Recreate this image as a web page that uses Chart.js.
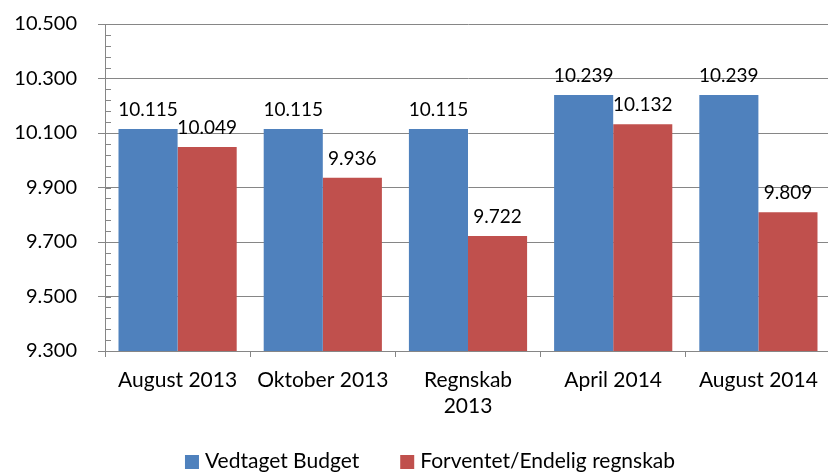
<!DOCTYPE html>
<html>
<head>
<meta charset="utf-8">
<script src="https://cdn.jsdelivr.net/npm/chart.js@4/dist/chart.umd.min.js"></script>
<style>
  html, body { margin: 0; padding: 0; background: #fff; overflow: hidden; }
  #wrap { width: 831px; height: 472px; }
</style>
</head>
<body>
<div id="wrap"><canvas id="grafico" width="831" height="472"></canvas></div>
<script>
// Data from the chart (thousands, danish number format)
const kategorier = ['August 2013', 'Oktober 2013', ['Regnskab', '2013'], 'April 2014', 'August 2014'];
const vedtagetBudget = [10115, 10115, 10115, 10239, 10239];
const forventetRegnskab = [10049, 9936, 9722, 10132, 9809];
const serieNavne = ['Vedtaget Budget', 'Forventet/Endelig regnskab'];
const yMin = 9300, yMax = 10500, yStep = 200, yMinorStep = 40;

const FONT = 'Lato';
const GRAA = '#868686';

function formatTal(n) {
    return Math.round(n).toString().replace(/\B(?=(\d{3})+(?!\d))/g, '.');
}

// Small ticks on the y axis between the gridlines
const smaaStreger = {
    id: 'smaaStreger',
    afterDraw(chart) {
        const y = chart.scales.y;
        const ctx = chart.ctx;
        const x0 = chart.chartArea.left;
        ctx.save();
        ctx.strokeStyle = GRAA;
        ctx.lineWidth = 1;
        for (let v = yMin; v <= yMax; v += yMinorStep) {
            if (v % yStep === 0) continue;
            const py = Math.round(y.getPixelForValue(v)) + 0.5;
            ctx.beginPath();
            ctx.moveTo(x0, py);
            ctx.lineTo(x0 + 6, py);
            ctx.stroke();
        }
        ctx.restore();
    }
};

// Value labels above every bar
const vaerdiEtiketter = {
    id: 'vaerdiEtiketter',
    afterDatasetsDraw(chart) {
        const ctx = chart.ctx;
        ctx.save();
        ctx.font = '19px ' + FONT;
        ctx.fillStyle = '#000';
        ctx.textAlign = 'center';
        ctx.textBaseline = 'alphabetic';
        chart.data.datasets.forEach((ds, i) => {
            chart.getDatasetMeta(i).data.forEach((bar, j) => {
                ctx.fillText(formatTal(ds.data[j]), bar.x, bar.y - 13);
            });
        });
        ctx.restore();
    }
};

// Legend at the bottom, drawn by hand to get the spacing right
const bundLegende = {
    id: 'bundLegende',
    afterDraw(chart) {
        const ctx = chart.ctx;
        ctx.save();
        ctx.font = '21px ' + FONT;
        ctx.textBaseline = 'middle';
        ctx.textAlign = 'left';
        const boks = 14, mellem = 6, afstand = 41;
        const items = chart.data.datasets.map(ds => ({
            tekst: ds.label,
            farve: ds.backgroundColor,
            w: ctx.measureText(ds.label).width
        }));
        let total = 0;
        items.forEach((it, i) => { total += boks + mellem + it.w + (i > 0 ? afstand : 0); });
        let x = 430 - total / 2;
        const cy = 461;
        items.forEach(it => {
            ctx.fillStyle = it.farve;
            ctx.fillRect(x, cy - 6, boks, boks);
            ctx.fillStyle = '#000';
            ctx.fillText(it.tekst, x + boks + mellem, cy);
            x += boks + mellem + it.w + afstand;
        });
        ctx.restore();
    }
};

function tegnGraf() {
    const ctx = document.getElementById('grafico');
    new Chart(ctx, {
        type: 'bar',
        data: {
            labels: kategorier,
            datasets: [{
                label: serieNavne[0],
                data: vedtagetBudget,
                backgroundColor: '#4F81BD',
                categoryPercentage: 0.814,
                barPercentage: 1
            }, {
                label: serieNavne[1],
                data: forventetRegnskab,
                backgroundColor: '#C0504D',
                categoryPercentage: 0.814,
                barPercentage: 1
            }]
        },
        options: {
            responsive: false,
            animation: false,
            layout: { padding: { top: 24, right: 0, bottom: 0, left: 0 } },
            plugins: {
                legend: { display: false },
                tooltip: { enabled: false },
                title: { display: false }
            },
            scales: {
                x: {
                    afterFit: s => { s.height = 472 - 351; },
                    grid: {
                        display: true,
                        drawOnChartArea: false,
                        drawTicks: true,
                        tickLength: 6,
                        color: GRAA,
                        offset: true
                    },
                    border: { display: true, color: GRAA },
                    ticks: {
                        color: '#000',
                        font: { family: FONT, size: 21 },
                        padding: 11,
                        maxRotation: 0,
                        autoSkip: false
                    }
                },
                y: {
                    min: yMin,
                    max: yMax,
                    afterFit: s => {
                        s.width = 105;
                        s.paddingTop = 0;
                        s.paddingBottom = 0;
                    },
                    grid: {
                        color: GRAA,
                        tickLength: 7,
                        drawTicks: true
                    },
                    border: { display: true, color: GRAA },
                    ticks: {
                        stepSize: yStep,
                        color: '#000',
                        font: { family: FONT, size: 20 },
                        padding: 21,
                        callback: v => formatTal(v)
                    }
                }
            }
        },
        plugins: [smaaStreger, vaerdiEtiketter, bundLegende]
    });
}

document.addEventListener('DOMContentLoaded', tegnGraf);
</script>
</body>
</html>
